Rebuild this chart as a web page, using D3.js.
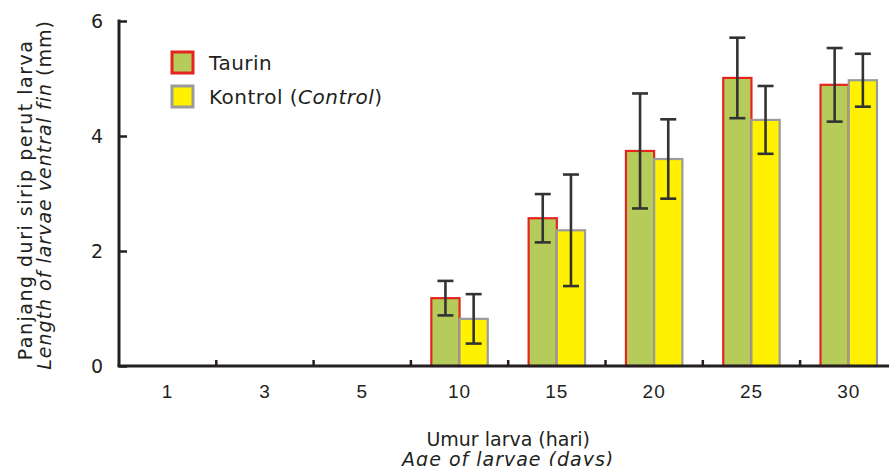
<!DOCTYPE html>
<html>
<head>
<meta charset="utf-8">
<script src="https://cdn.jsdelivr.net/npm/d3@7"></script>
<style>
  html, body { margin: 0; padding: 0; background: #fff; }
  svg { display: block; font-family: "DejaVu Sans", sans-serif; }
  text { fill: #231f20; }
</style>
</head>
<body>
<div id="chart"></div>
<script>
// data
const ages = ['1', '3', '5', '10', '15', '20', '25', '30'];
const series = ['Taurin', 'Kontrol'];
const taurin = [null, null, null, 1.18, 2.57, 3.74, 5.01, 4.89];
const taurinErr = [null, null, null, 0.30, 0.42, 1.00, 0.70, 0.64];
const kontrol = [null, null, null, 0.82, 2.36, 3.60, 4.28, 4.97];
const kontrolErr = [null, null, null, 0.43, 0.97, 0.69, 0.59, 0.46];
const yTicks = [0, 2, 4, 6];

const width = 889, height = 466;
const margin = { top: 21, left: 119, bottom: 100 };

const fills = { Taurin: '#b5cc5b', Kontrol: '#fff100' };
const strokes = { Taurin: '#e4251f', Kontrol: '#9b9b9b' };

const svg = d3.select('#chart').append('svg')
  .attr('width', width).attr('height', height);

// scales
const x0 = d3.scaleBand().domain(ages).range([margin.left, margin.left + 8 * 97.3]).padding(0);
const bw = x0.bandwidth();
const x1 = d3.scaleBand().domain(series).range([bw * 0.21, bw * 0.79]).padding(0);
const y = d3.scaleLinear().domain([0, 6]).range([height - margin.bottom, margin.top]);

// rows for the bars
const rows = [];
ages.forEach((a, i) => {
  if (taurin[i] != null) rows.push({ age: a, s: 'Taurin', v: taurin[i], e: taurinErr[i] });
  if (kontrol[i] != null) rows.push({ age: a, s: 'Kontrol', v: kontrol[i], e: kontrolErr[i] });
});

// bars
svg.append('g').selectAll('rect').data(rows).enter().append('rect')
  .attr('x', d => x0(d.age) + x1(d.s))
  .attr('y', d => y(d.v))
  .attr('width', x1.bandwidth())
  .attr('height', d => y(0) - y(d.v))
  .attr('fill', d => fills[d.s])
  .attr('stroke', d => strokes[d.s])
  .attr('stroke-width', 2.2);

// error bars
const eb = svg.append('g').attr('stroke', '#333').attr('stroke-width', 2.6)
  .selectAll('g').data(rows).enter().append('g')
  .attr('transform', d => `translate(${x0(d.age) + x1(d.s) + x1.bandwidth() / 2},0)`);
eb.append('line').attr('y1', d => y(d.v + d.e)).attr('y2', d => y(d.v - d.e));
eb.append('line').attr('x1', -8).attr('x2', 8).attr('y1', d => y(d.v + d.e)).attr('y2', d => y(d.v + d.e));
eb.append('line').attr('x1', -8).attr('x2', 8).attr('y1', d => y(d.v - d.e)).attr('y2', d => y(d.v - d.e));

// y axis
const gy = svg.append('g').attr('transform', `translate(${margin.left},0)`)
  .call(d3.axisRight(y).tickValues(yTicks).tickSize(8).tickFormat(''));
gy.select('.domain').remove();
gy.selectAll('line').attr('stroke', '#231f20').attr('stroke-width', 2.5);
svg.append('line').attr('x1', margin.left).attr('x2', margin.left)
  .attr('y1', y(6) - 1.5).attr('y2', y(0)).attr('stroke', '#231f20').attr('stroke-width', 3);
svg.append('g').selectAll('text').data(yTicks).enter().append('text')
  .attr('x', 103).attr('y', d => y(d)).attr('dy', '0.36em')
  .attr('text-anchor', 'end').style('font-size', '19px')
  .text(d => d);

// x axis
const gx = svg.append('g').attr('transform', `translate(0,${y(0)})`)
  .call(d3.axisBottom(x0).tickSize(0).tickPadding(19));
gx.select('.domain').attr('stroke', '#231f20').attr('stroke-width', 3.2).attr('d', `M${margin.left - 1.5},0H${width}`);
gx.selectAll('text').style('font-size', '19px').style('letter-spacing', '1px').attr('fill', '#231f20').attr('font-family', null);
// small upward ticks at the band borders
svg.append('g').selectAll('line').data(ages.slice(1)).enter().append('line')
  .attr('x1', d => x0(d)).attr('x2', d => x0(d))
  .attr('y1', y(0)).attr('y2', y(0) - 6)
  .attr('stroke', '#231f20').attr('stroke-width', 2.5);

// axis titles
svg.append('text').attr('transform', 'translate(32,200) rotate(-90)')
  .attr('text-anchor', 'middle').style('font-size', '19px').style('letter-spacing', '1.5px')
  .text('Panjang duri sirip perut larva');
const yt2 = svg.append('text').attr('transform', 'translate(51,195) rotate(-90)')
  .attr('text-anchor', 'middle').style('font-size', '19px').style('letter-spacing', '1px');
yt2.append('tspan').style('font-style', 'italic').text('Length of larvae ventral fin');
yt2.append('tspan').text(' (mm)');

const cx = (x0.range()[0] + x0.range()[1]) / 2;
svg.append('text').attr('x', cx).attr('y', 446).attr('text-anchor', 'middle')
  .style('font-size', '19px').text('Umur larva (hari)');
svg.append('text').attr('x', cx).attr('y', 466).attr('text-anchor', 'middle')
  .style('font-size', '19px').style('font-style', 'italic').style('letter-spacing', '1px')
  .text('Age of larvae (days)');

// legend
const legend = svg.append('g').attr('transform', 'translate(172,52)');
const li = legend.selectAll('g').data(series).enter().append('g')
  .attr('transform', (d, i) => `translate(0,${i * 34})`);
li.append('rect').attr('width', 21).attr('height', 21)
  .attr('fill', d => fills[d]).attr('stroke', d => strokes[d]).attr('stroke-width', 3);
const lt = li.append('text').attr('x', 37).attr('y', 11).attr('dy', '0.36em')
  .style('font-size', '20px').style('letter-spacing', '0.5px');
lt.filter(d => d === 'Taurin').text('Taurin');
const kt = lt.filter(d => d === 'Kontrol');
kt.append('tspan').text('Kontrol (');
kt.append('tspan').style('font-style', 'italic').text('Control');
kt.append('tspan').text(')');
</script>
</body>
</html>
